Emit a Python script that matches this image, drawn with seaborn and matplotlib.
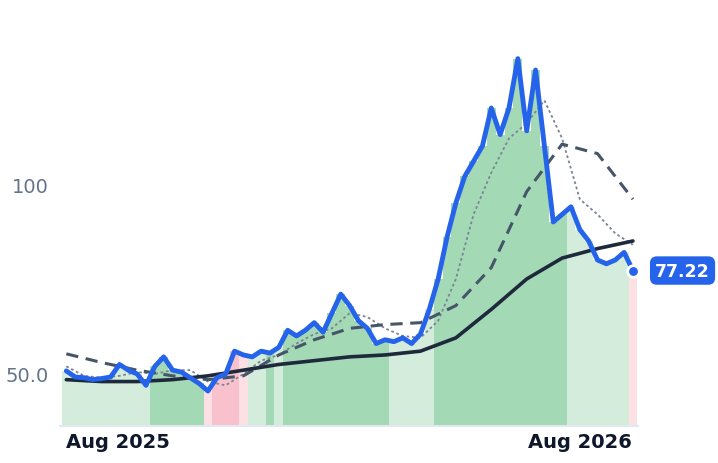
import matplotlib
matplotlib.use("Agg")
import matplotlib.pyplot as plt
import matplotlib.dates as mdates
import seaborn as sns
import pandas as pd
import numpy as np

# weekly closes
start = "2025-06-21"
price = [50.8, 49.2, 49, 48.5, 48.8, 49.2, 52.5, 51, 50, 47,
         52, 54.5, 51, 50.5, 49, 47.5, 45.5, 49, 50, 56,
         55, 54.5, 56, 55.5, 57, 61.5, 60, 61.5, 63.5, 61,
         66, 71, 68, 64, 62, 58, 59, 58.5, 59.5, 58,
         60.5, 67, 75, 86, 95, 102, 106, 110, 120, 113,
         120, 133, 114, 130, 110, 90, 92, 94, 88, 85,
         80, 79, 80, 82, 77.22]
# regime per week: 0 light green, 1 green, 2 light pink, 3 pink
regime = [0] * 10 + [1] * 6 + [2] + [3] * 3 + [2] + [0, 0] + [1] + [0] + [1] * 12 \
    + [0] * 5 + [1] * 15 + [0] * 7 + [2]

# moving averages, every 4 weeks (solid/dashed) and every 2 weeks (dotted)
ma_long = [48.5, 48, 48, 48.5, 49.5, 51, 52.5, 53.5, 54.5, 55, 56, 59.5, 67, 75, 80.5, 83, 85]
ma_mid = [55.3, 53, 51, 49.5, 48.5, 49.5, 55, 59, 62, 63, 63.5, 68, 78, 98, 110.5, 108, 96]
ma_short = [52, 49.5, 49, 49.5, 50.5, 50, 51, 51, 48, 47, 50, 53.5, 55, 58, 60.5, 62,
            66, 65, 62, 60, 59.5, 64, 75, 92, 103, 112, 116, 122, 112, 96, 92, 87, 84]

dates = pd.date_range(start, periods=len(price), freq="7D")
d4 = list(dates[::4])
d2 = list(dates[::2])

regime_colors = ["#d3ecdc", "#a3d9b5", "#fde0e4", "#f8c1cc"]

sns.set_style("white")
plt.rcParams["font.family"] = ["DejaVu Sans"]

fig = plt.figure(figsize=(7.18, 4.64), dpi=100)
ax = fig.add_axes([60 / 718, 37 / 464, 578 / 718, 427 / 464])

ax.bar(dates, price, width=7, align="center",
       color=[regime_colors[r] for r in regime], linewidth=0, zorder=1)

sns.lineplot(x=d2, y=ma_short, ax=ax, color="#7b8494", lw=1.3,
             linestyle=(0, (1.5, 1.5)), zorder=2)
sns.lineplot(x=d4, y=ma_mid, ax=ax, color="#475569",
             lw=2.2, linestyle=(0, (4, 2.5)), zorder=3)
sns.lineplot(x=d4, y=ma_long, ax=ax, color="#1e293b", lw=2.6, zorder=4)
sns.lineplot(x=dates, y=price, ax=ax, color="#2563eb", lw=3.5, zorder=5)

ax.scatter([dates[-1]], [price[-1]], s=70, color="#2563eb", edgecolor="white",
           linewidth=2, zorder=6, clip_on=False)
ax.annotate(f"{price[-1]:.2f}", xy=(dates[-1], price[-1]), xytext=(16, 0),
            textcoords="offset points", va="center", ha="left", color="white",
            fontsize=12.5, fontweight="bold", annotation_clip=False,
            bbox=dict(boxstyle="round,pad=0.3,rounding_size=0.4", fc="#2563eb", ec="none"))

ax.set_xlim(dates[0] - pd.Timedelta(days=5), dates[-1] + pd.Timedelta(days=4))
ax.set_ylim(36.3, 148.7)
ax.set_yticks([50, 100])
ax.set_yticklabels(["50.0", "100"])
ax.set_xticks([pd.Timestamp("2025-08-01"), pd.Timestamp("2026-08-01")])
ax.xaxis.set_major_formatter(mdates.DateFormatter("%b %Y"))
ax.tick_params(axis="y", length=0, labelsize=14, labelcolor="#64748b", pad=8)
ax.tick_params(axis="x", length=0, labelsize=14, labelcolor="#0f172a", pad=4)
for lbl in ax.get_xticklabels():
    lbl.set_fontweight("bold")
for s in ["top", "right", "left"]:
    ax.spines[s].set_visible(False)
ax.spines["bottom"].set_color("#e2e8f0")
ax.spines["bottom"].set_linewidth(1.5)
ax.set_xlabel("")
ax.set_ylabel("")

fig.savefig("out.png", dpi=100)
